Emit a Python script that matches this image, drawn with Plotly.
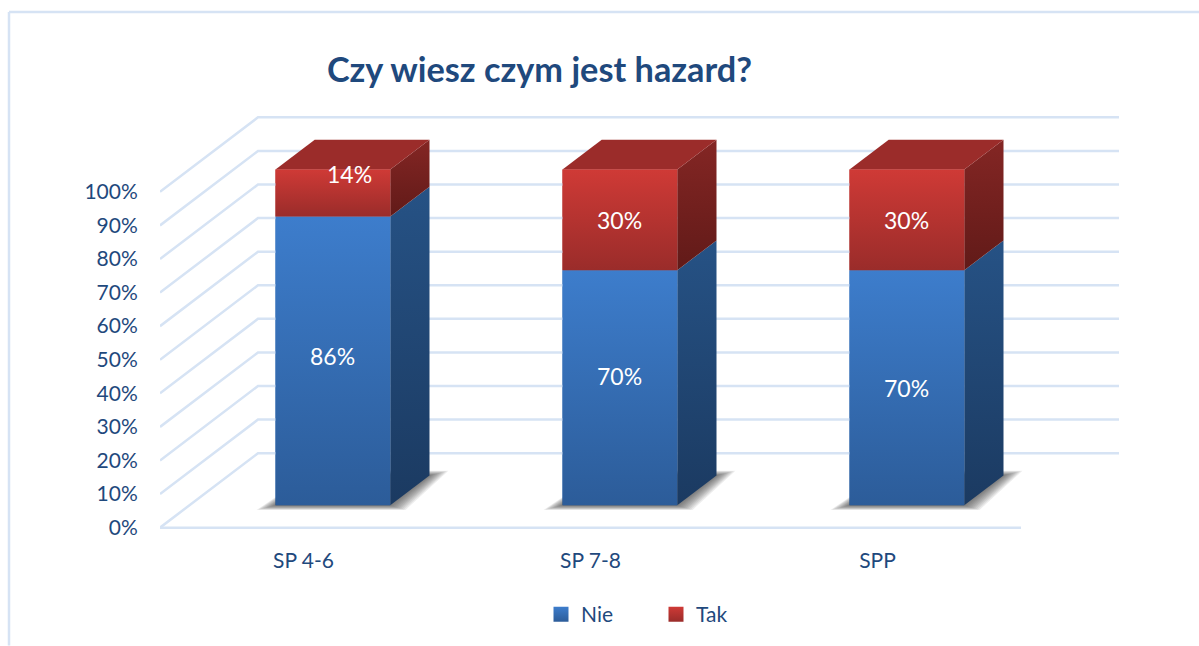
import plotly.graph_objects as go

# ---- data ----
categories = ["SP 4-6", "SP 7-8", "SPP"]
series_names = ["Nie", "Tak"]
nie_values = [86, 70, 70]
tak_values = [14, 30, 30]
y_ticks = [0, 10, 20, 30, 40, 50, 60, 70, 80, 90, 100]
y_tick_labels = ["0%", "10%", "20%", "30%", "40%", "50%", "60%", "70%", "80%", "90%", "100%"]
title_text = "Czy wiesz czym jest hazard?"
# hand-moved data-label offsets seen in the chart (category units, value units)
nie_label_shift = [(0, 1.5), (0, 3.6), (0, 0)]
tak_label_shift = [(0.0575, 5.6), (0, 0), (0, 0)]

# ---- oblique projection ----
DEPTH_X = 0.3415   # full floor depth, in category units
DEPTH_Y = 22.17    # full floor depth, in value units
BAR_W = 0.4
BAR_FRONT = 0.3    # fraction of depth where the bars start
BAR_DEPTH = 0.4    # fraction of depth the bars take

PAD = 1  # value units of room above and below so edge grid lines are not clipped
L, R, T, B = 160, 80, 117.5 - 3.36 * PAD, 118 - 3.36 * PAD
W, H = 1199, 646
GRID = "#D6E3F4"
TEXT = "#1F497D"
FONT = "Lato"
x_max = len(categories) + DEPTH_X
y_max = 100 + DEPTH_Y


def proj(cat, val, depth):
    return cat + depth * DEPTH_X, val + depth * DEPTH_Y


def poly(points, **kw):
    xs = [p[0] for p in points] + [points[0][0]]
    ys = [p[1] for p in points] + [points[0][1]]
    return go.Scatter(x=xs, y=ys, mode="lines", fill="toself", line=dict(width=0),
                      hoverinfo="skip", showlegend=False, **kw)


def grad(c_bottom, c_top):
    return dict(type="vertical", colorscale=[[0, c_bottom], [1, c_top]])


fig = go.Figure()

# real bars (front faces)
fx = [i + 0.5 + BAR_FRONT * DEPTH_X for i in range(len(categories))]
base0 = BAR_FRONT * DEPTH_Y
fig.add_trace(go.Bar(x=fx, y=nie_values, base=[base0] * 3, width=BAR_W, name="Nie",
                     marker=dict(color="#3670B5", line=dict(width=0)), showlegend=False))
fig.add_trace(go.Bar(x=fx, y=tak_values, base=[base0 + v for v in nie_values], width=BAR_W, name="Tak",
                     marker=dict(color="#B53330", line=dict(width=0)), showlegend=False))

# grid: side wall + back wall, then floor front edge
for t in y_ticks:
    fig.add_trace(go.Scatter(
        x=[0, DEPTH_X, x_max], y=[t, t + DEPTH_Y, t + DEPTH_Y], mode="lines",
        line=dict(color=GRID, width=2.5), hoverinfo="skip", showlegend=False, cliponaxis=False))
fig.add_trace(go.Scatter(x=[0, len(categories)], y=[0, 0], mode="lines",
                         line=dict(color=GRID, width=2.5), hoverinfo="skip", showlegend=False, cliponaxis=False))

# bar shadows and 3D faces
LAYERS = 10
for i in range(len(categories)):
    x0 = i + 0.5 - BAR_W / 2
    x1 = i + 0.5 + BAR_W / 2
    # blurred shadow on the floor
    for k in range(LAYERS):
        e = 1 - k / LAYERS
        pad_x = 0.066 * e
        pad_y = 1.4 * e
        a = proj(x0 - pad_x, -pad_y, BAR_FRONT)
        b = proj(x1 + pad_x * 0.8, -pad_y, BAR_FRONT)
        c = proj(x1 + pad_x, pad_y, BAR_FRONT + BAR_DEPTH)
        d = proj(x0, pad_y, BAR_FRONT + BAR_DEPTH)
        fig.add_trace(poly([a, b, c, d], fillcolor="rgba(50,50,50,0.09)"))

    v1 = nie_values[i]
    v2 = v1 + tak_values[i]
    f, bk = BAR_FRONT, BAR_FRONT + BAR_DEPTH
    # blue side
    fig.add_trace(poly([proj(x1, 0, f), proj(x1, 0, bk), proj(x1, v1, bk), proj(x1, v1, f)],
                       fillcolor="#204670", fillgradient=grad("#1B3A61", "#265285")))
    # red side
    fig.add_trace(poly([proj(x1, v1, f), proj(x1, v1, bk), proj(x1, v2, bk), proj(x1, v2, f)],
                       fillcolor="#742120", fillgradient=grad("#611A18", "#842624")))
    # top
    fig.add_trace(poly([proj(x0, v2, f), proj(x1, v2, f), proj(x1, v2, bk), proj(x0, v2, bk)],
                       fillcolor="#9B2C2A"))
    # front gradients over the bars
    fig.add_trace(poly([proj(x0, 0, f), proj(x1, 0, f), proj(x1, v1, f), proj(x0, v1, f)],
                       fillcolor="#3670B5", fillgradient=grad("#2C5C99", "#3D7DCC")))
    fig.add_trace(poly([proj(x0, v1, f), proj(x1, v1, f), proj(x1, v2, f), proj(x0, v2, f)],
                       fillcolor="#B53330", fillgradient=grad("#9A2C2A", "#CF3A36")))

# legend entries
fig.add_trace(go.Scatter(x=[None], y=[None], mode="markers", name="Nie", showlegend=True,
                         marker=dict(symbol="square", size=15, color="#3D7DCC",
                                     gradient=dict(type="vertical", color="#2C5C99"))))
fig.add_trace(go.Scatter(x=[None], y=[None], mode="markers", name="Tak", showlegend=True,
                         marker=dict(symbol="square", size=15, color="#CF3A36",
                                     gradient=dict(type="vertical", color="#9A2C2A"))))

# data labels
annotations = []
for i in range(len(categories)):
    cx = fx[i]
    v1, v2 = nie_values[i], tak_values[i]
    pairs = [(v1, base0 + v1 / 2, nie_label_shift[i]), (v2, base0 + v1 + v2 / 2, tak_label_shift[i])]
    for v, yc, (sx, sy) in pairs:
        annotations.append(dict(x=cx + sx, y=yc + sy, text=f"{v}%", showarrow=False,
                                xref="x", yref="y", font=dict(family=FONT, size=23, color="white")))

fig.update_layout(
    width=W, height=H, margin=dict(l=L, r=R, t=T, b=B, pad=0, autoexpand=False),
    paper_bgcolor="white", plot_bgcolor="white", barmode="overlay",
    font=dict(family=FONT, size=21, color=TEXT),
    title=dict(text=f"<b>{title_text}</b>", x=539.5 / W, xanchor="center", xref="container",
               y=1 - 70 / H, yanchor="middle", font=dict(family=FONT, size=34.3, color=TEXT)),
    xaxis=dict(range=[0, x_max], tickmode="array", tickvals=[i + 0.5 for i in range(len(categories))],
               ticktext=categories, showgrid=False, zeroline=False, showline=False,
               ticks="outside", ticklen=11, tickcolor="rgba(0,0,0,0)", tickfont=dict(size=21)),
    yaxis=dict(range=[-PAD, y_max + PAD], tickmode="array", tickvals=y_ticks, ticktext=y_tick_labels,
               showgrid=False, zeroline=False, showline=False,
               ticks="outside", ticklen=17, tickcolor="rgba(0,0,0,0)", tickfont=dict(size=21)),
    legend=dict(orientation="h", x=(541 - L) / (W - L - R), xanchor="left",
                y=(H - B - 615) / (H - T - B), yanchor="middle",
                entrywidth=70, entrywidthmode="pixels", font=dict(size=21),
                bgcolor="rgba(0,0,0,0)", itemclick=False, itemdoubleclick=False),
    annotations=annotations,
    shapes=[
        dict(type="line", xref="paper", yref="paper", layer="below", line=dict(color=GRID, width=2.5),
             x0=(9 - L) / (W - L - R), x1=(W - L) / (W - L - R),
             y0=(H - B - 12) / (H - T - B), y1=(H - B - 12) / (H - T - B)),
        dict(type="line", xref="paper", yref="paper", layer="below", line=dict(color=GRID, width=2.5),
             x0=(9 - L) / (W - L - R), x1=(9 - L) / (W - L - R),
             y0=(H - B - 12) / (H - T - B), y1=(H - B - H) / (H - T - B)),
    ],
)

fig.write_html("out.html", config={"displayModeBar": False},
               post_script="document.body.style.margin='0';")
